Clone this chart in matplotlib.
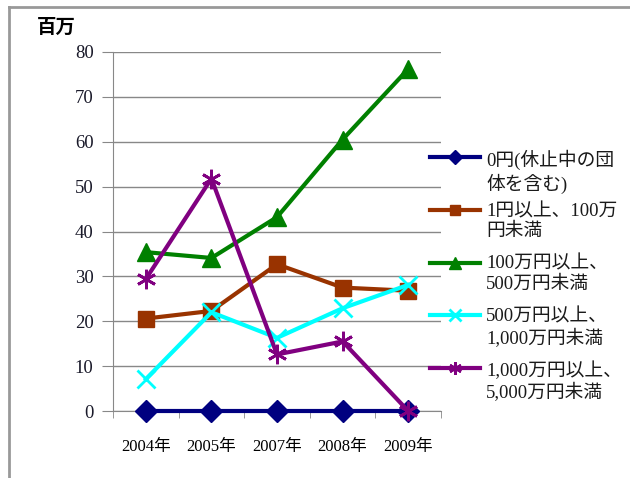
import matplotlib
matplotlib.use("Agg")
import matplotlib.pyplot as plt
from matplotlib.lines import Line2D

plt.rcParams['font.family'] = ['Liberation Serif', 'Noto Sans CJK JP', 'DejaVu Sans']

# data
years = ["2004年", "2005年", "2007年", "2008年", "2009年"]
labels = ["0円(休止中の団\n体を含む)", "1円以上、100万\n円未満", "100万円以上、\n500万円未満",
          "500万円以上、\n1,000万円未満", "1,000万円以上、\n5,000万円未満"]
s0 = [0, 0, 0, 0, 0]
s1 = [20.6, 22.3, 32.7, 27.5, 26.8]
s2 = [35.4, 34.1, 43.2, 60.5, 76.2]
s3 = [7.1, 22.0, 16.3, 22.9, 28.1]
s4 = [29.4, 51.8, 12.6, 15.5, 0]
yticks = [0, 10, 20, 30, 40, 50, 60, 70, 80]

colors = ["#000080", "#993300", "#008000", "#00FFFF", "#800080"]
markers = ["D", "s", "^", "x", (6, 2, 0)]
msizes = [11, 12, 13, 13, 14]
mew = [1, 1, 1, 2, 2]

fig = plt.figure(figsize=(6.3, 4.78), dpi=100)
W, H = 630, 478
ax = fig.add_axes([113 / W, 1 - 411 / H, (441 - 113) / W, (411 - 52) / H])

xs = [i + 0.5 for i in range(len(years))]
for s, c, m, ms, mw, lab in zip([s0, s1, s2, s3, s4], colors, markers, msizes, mew, labels):
    ax.plot(xs, s, color=c, lw=3, marker=m, ms=ms, mew=mw, mec=c, mfc=c, label=lab,
            clip_on=False, zorder=3)

ax.set_xlim(0, 5)
ax.set_ylim(0, 80)
ax.set_yticks(yticks)
ax.set_xticks(xs)
ax.set_xticklabels(years, fontsize=12)
ax.set_xticks(range(0, 6), minor=True)
ax.tick_params(axis='x', which='major', length=0, pad=20)
ax.tick_params(axis='x', which='minor', length=5, color='#888888', direction='out')
ax.tick_params(axis='y', length=8, color='#888888', labelsize=13.5, pad=6)
for lbl in ax.get_yticklabels():
    lbl.set_color('#1a1a2a')
ax.grid(axis='y', color='#888888', lw=1)
ax.set_axisbelow(True)
for sp in ['top', 'right']:
    ax.spines[sp].set_visible(False)
for sp in ['left', 'bottom']:
    ax.spines[sp].set_color('#888888')

fig.text(37 / W, 1 - 28 / H, "百万", fontsize=14, fontweight='bold', va='center', ha='left')

# legend drawn by hand so the handle sits on the first text line
for i, (c, m, ms, mw, lab) in enumerate(zip(colors, markers, msizes, mew, labels)):
    yl = 1 - (157 + i * 52.8) / H
    fig.add_artist(Line2D([430 / W, 455 / W, 480 / W], [yl, yl, yl], color=c, lw=3, marker=m,
                          markevery=[1], ms=ms * 0.65, mew=mw, mec=c, mfc=c,
                          transform=fig.transFigure))
    fig.text(486 / W, yl + 7 / H, lab, fontsize=13.5, va='top', ha='left',
             linespacing=1.2, color='#1a1a1a')

# outer frame (left and top edges only)
fig.add_artist(Line2D([8.5 / W, 8.5 / W], [0, 1 - 6.5 / H], color='#999999', lw=2,
                      transform=fig.transFigure))
fig.add_artist(Line2D([8.5 / W, 1], [1 - 6.5 / H, 1 - 6.5 / H], color='#999999', lw=2,
                      transform=fig.transFigure))

fig.savefig("out.png", dpi=100)
